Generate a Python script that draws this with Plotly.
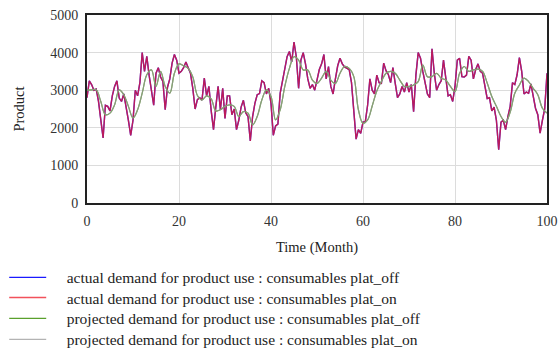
import numpy as np
import plotly.graph_objects as go

# Actual demand, sampled every half month (Month 0 .. 100)
actual_step = 0.5
actual_demand_on = [
    2800, 3250, 3150, 3000, 3030, 2700, 2210, 1730, 2600, 2570,
    2450, 2850, 3100, 3250, 2790, 2700, 2900, 2570, 2200, 1800,
    2200, 3000, 2850, 3200, 4000, 3500, 3900, 3400, 3000, 2600,
    3450, 3600, 3350, 3230, 2480, 3080, 3300, 3720, 3950, 3800,
    3450, 3500, 3600, 3750, 3600, 3450, 3050, 2500, 2750, 2800,
    2740, 3320, 2850, 3100, 2450, 1950, 2550, 3100, 2480, 3050,
    2250, 2850, 2850, 2350, 2500, 1950, 2200, 2550, 2730, 2400,
    2300, 1650, 2300, 2650, 2880, 2910, 3250, 3200, 2900, 3050,
    2650, 1800, 2050, 2100, 2920, 3250, 3600, 3890, 4030, 3750,
    4280, 3890, 3050, 3800, 4000, 3700, 3300, 3050, 3150, 3000,
    3270, 3550, 3700, 3950, 3300, 3630, 3100, 2900, 3300, 3650,
    3850, 3700, 3620, 3580, 3550, 3200, 2400, 1700, 1950, 1850,
    2150, 2160, 2600, 3300, 3000, 2900, 3400, 3200, 3180, 3720,
    3520, 3420, 3200, 3600, 3190, 2800, 2900, 3100, 2950, 3200,
    2950, 3150, 2430, 3400, 4000, 3850, 3500, 3200, 2900, 2800,
    4100, 3450, 3000, 3150, 3250, 3800, 3350, 2850, 2880, 2700,
    3100, 3800, 3850, 3360, 3350, 3400, 3900, 3800, 3300, 3550,
    3700, 3500, 3450, 3050, 2780, 2800, 2450, 2550, 2200, 1420,
    2150, 2200, 1950, 2300, 2570, 3200, 3150, 3410, 3870, 3500,
    2900, 2950, 2920, 3170, 2800, 2520, 2350, 1860, 2200, 2500,
    3450,
]
actual_demand_off = list(actual_demand_on)

# Projected (smoothed) demand, sampled every month (Month 0 .. 100)
projected_step = 1.0
projected_demand_on = [
    3000, 3010, 3010, 2700, 2350, 2390, 2610, 3010, 2880, 2570,
    2260, 2480, 2920, 3410, 3540, 3100, 3500, 3100, 2920, 3450,
    3700, 3650, 3580, 3350, 2860, 2740, 2850, 2770, 2450, 2480,
    2570, 2610, 2570, 2300, 2430, 2390, 2080, 2300, 2740, 3010,
    2830, 2210, 2480, 3100, 3580, 3890, 3800, 3540, 3540, 3270,
    3180, 3320, 3500, 3270, 3180, 3450, 3630, 3580, 3360, 2480,
    2120, 2210, 2580, 2980, 3230, 3450, 3500, 3450, 3270, 3100,
    3100, 3140, 3230, 3670, 3360, 3360, 3450, 3320, 3270, 3100,
    2960, 3450, 3630, 3500, 3540, 3560, 3500, 3190, 2830, 2570,
    2300, 2150, 2420, 2920, 3140, 3320, 3230, 3050, 2880, 2520,
    2390,
]
projected_demand_off = list(projected_demand_on)

series_names = [
    "actual demand for product use : consumables plat_off",
    "actual demand for product use : consumables plat_on",
    "projected demand for product use : consumables plat_off",
    "projected demand for product use : consumables plat_on",
]

x_ticks = [0, 20, 40, 60, 80, 100]
y_ticks = [0, 1000, 2000, 3000, 4000, 5000]

t_actual = np.arange(len(actual_demand_on)) * actual_step
t_proj = np.arange(len(projected_demand_on)) * projected_step

FONT = "Liberation Serif"
GAP = "\u00a0" * 4  # space between legend key and its label


def label(name):
    return GAP + name


fig = go.Figure()
fig.add_trace(go.Scatter(x=t_actual, y=actual_demand_off, name=label(series_names[0]),
                         mode="lines", line=dict(color="#1a1aff", width=1.4),
                         legend="legend"))
fig.add_trace(go.Scatter(x=t_actual, y=actual_demand_on, name=label(series_names[1]),
                         mode="lines", line=dict(color="#ee1a28", width=1.4),
                         opacity=0.76, legend="legend2"))
fig.add_trace(go.Scatter(x=t_proj, y=projected_demand_off, name=label(series_names[2]),
                         mode="lines", line=dict(color="#5aa02c", width=1.2, shape="spline"),
                         legend="legend3"))
fig.add_trace(go.Scatter(x=t_proj, y=projected_demand_on, name=label(series_names[3]),
                         mode="lines", line=dict(color="#999999", width=1.2, shape="spline"),
                         opacity=0.75, legend="legend4"))

axis_common = dict(
    showline=True, mirror=True, linecolor="#222222", linewidth=2,
    showgrid=True, gridcolor="#dcdcdc", gridwidth=1,
    zeroline=False, ticks="",
    tickfont=dict(family=FONT, size=14, color="#333333"),
)


def legend_row(y):
    # one legend entry per row, stacked below the x-axis title
    return dict(
        orientation="v", x=-0.18, xanchor="left", y=y, yanchor="middle",
        font=dict(family=FONT, size=15.5, color="#222222"),
        itemwidth=37, bgcolor="rgba(0,0,0,0)",
    )


fig.update_layout(
    width=559, height=351,
    margin=dict(l=87, r=12, t=15, b=148, autoexpand=False),
    paper_bgcolor="white", plot_bgcolor="white",
    font=dict(family=FONT, size=14, color="#222222"),
    xaxis=dict(range=[0, 100], tickvals=x_ticks, ticklabelstandoff=4,
               title=dict(text="Time (Month)", font=dict(family=FONT, size=14.5), standoff=14),
               **axis_common),
    yaxis=dict(range=[0, 5000], tickvals=y_ticks, ticklabelstandoff=4,
               title=dict(text="Product", font=dict(family=FONT, size=14.5), standoff=22),
               **axis_common),
    legend=legend_row(-0.398),
    legend2=legend_row(-0.505),
    legend3=legend_row(-0.616),
    legend4=legend_row(-0.728),
    showlegend=True,
)

fig.write_html("out.html")
